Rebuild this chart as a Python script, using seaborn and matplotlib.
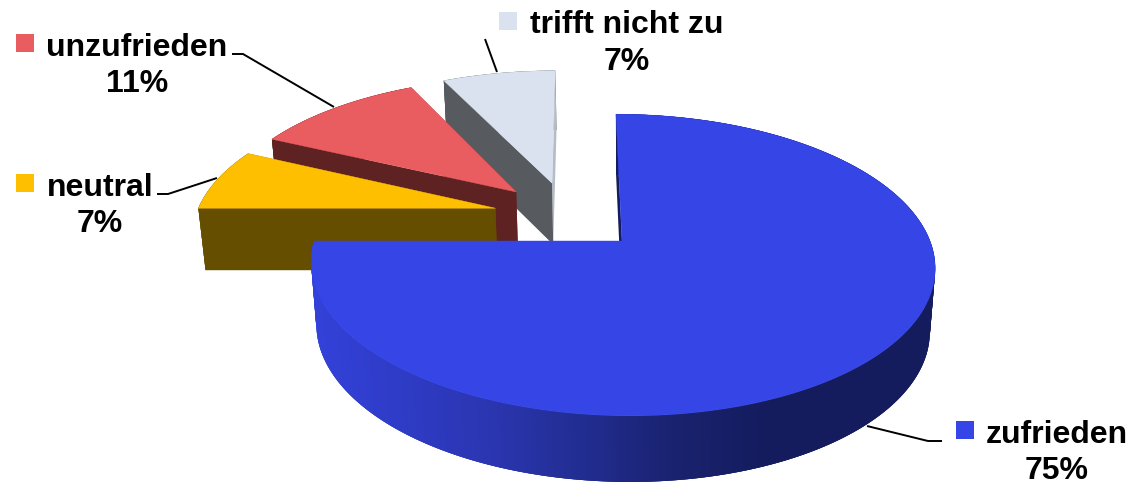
import numpy as np
import seaborn as sns
import matplotlib.pyplot as plt

categories = ["zufrieden", "neutral", "unzufrieden", "trifft nicht zu"]
values = [75, 7, 10.8, 7.2]
top_colors = ["#3545e6", "#fdbf00", "#e95d60", "#d9e2ee"]
face_colors = ["#141c5e", "#664e00", "#5f2222", "#575b60"]
wall_colors = ["#3341d9", "#2e3bc4", "#2a35ae", "#212c8f", "#19226e", "#141c5e", "#141c5e", "#141c5e"]

sns.set_theme(style="white")
plt.rcParams["font.family"] = ["Liberation Sans", "DejaVu Sans"]

# pie geometry in screen pixels, apex of the big slice is the origin of the perspective
CX, CY = 622, 242
RX, RY = 308, 147
PERSP = 0.159
SHEAR = -7
EXPLODE = 0.25
SHRINK = 0.983


def project(u, v):
    w = 1 + PERSP * v
    return CX + (RX * u + SHEAR * v) / w, CY - RY * v / w


def drop(x, y):
    # lower rim of the pie
    return CX + SHRINK * (x - CX), y + 62 + 0.02 * (y - 209)


fractions = np.array(values) / sum(values)
ends = np.cumsum(fractions) * 2 * np.pi
starts = ends - fractions * 2 * np.pi
mids = (starts + ends) / 2
off_u = EXPLODE * np.sin(mids) - EXPLODE * np.sin(mids[0])
off_v = EXPLODE * np.cos(mids) - EXPLODE * np.cos(mids[0])

fig = plt.figure(figsize=(11.32, 4.85), dpi=100)
ax = fig.add_axes([0, 0, 1, 1])
ax.set_xlim(0, 1132)
ax.set_ylim(485, 0)
ax.axis("off")

gradient = sns.blend_palette(wall_colors, n_colors=256)

# back slices first, the big one goes on top
for i in [3, 2, 1, 0]:
    a = np.linspace(starts[i], ends[i], 300)
    rim_x, rim_y = project(off_u[i] + np.sin(a), off_v[i] + np.cos(a))
    low_x, low_y = drop(rim_x, rim_y)
    apex_x, apex_y = project(off_u[i], off_v[i])
    low_ax, low_ay = drop(apex_x, apex_y)

    # outer wall, quads overlap the next one so no seams show
    for j in range(len(a) - 1):
        if i == 0:
            pos = (rim_x[j] - 311) / (936 - 311)
            c = gradient[int(np.clip(pos, 0, 1) * 255)]
        else:
            c = face_colors[i]
        k = max(j - 2, 0)
        ax.fill([rim_x[k], rim_x[j + 1], low_x[j + 1], low_x[k]],
                [rim_y[k], rim_y[j + 1], low_y[j + 1], low_y[k]],
                color=c, lw=0, zorder=i * -10 + 1)

    # cut faces, the one at the end angle is behind
    back = {0: gradient[0], 3: "#b4bcc7"}.get(i, face_colors[i])
    ax.fill([apex_x, rim_x[-1], low_x[-1], low_ax], [apex_y, rim_y[-1], low_y[-1], low_ay],
            color=back, lw=0, zorder=i * -10 + 2)
    ax.fill([apex_x, rim_x[0], low_x[0], low_ax], [apex_y, rim_y[0], low_y[0], low_ay],
            color=face_colors[i], lw=0, zorder=i * -10 + 3)

    ax.fill(np.r_[apex_x, rim_x], np.r_[apex_y, rim_y], color=top_colors[i], lw=0.3,
            zorder=i * -10 + 4)

# leader lines
leaders = [
    ([942, 928, 867], [442, 442, 427]),
    ([157, 168, 217], [195, 195, 179]),
    ([232, 243, 334], [55, 55, 108]),
    ([485, 497], [40, 73]),
]
for lx, ly in leaders:
    ax.plot(lx, ly, color="black", lw=1.4, solid_capstyle="butt", zorder=5)

# labels with their colour key: text x, first baseline, key x, key y
label_pos = [(1057, 443, 964.5, 430.5), (100, 196, 24.5, 183.5), (137, 56, 24.5, 43.5), (627, 33, 507.5, 21.5)]
for i, (tx, ty, kx, ky) in enumerate(label_pos):
    ax.text(tx, ty, categories[i], ha="center", va="baseline", fontsize=23, fontweight="bold",
            color="black", zorder=6)
    ax.text(tx, ty + 36.5, f"{values[i]:.0f}%", ha="center", va="baseline", fontsize=23,
            fontweight="bold", color="black", zorder=6)
    ax.scatter([kx], [ky], marker="s", s=150, color=top_colors[i], linewidths=0, zorder=6)

fig.savefig("out.png", dpi=100)
